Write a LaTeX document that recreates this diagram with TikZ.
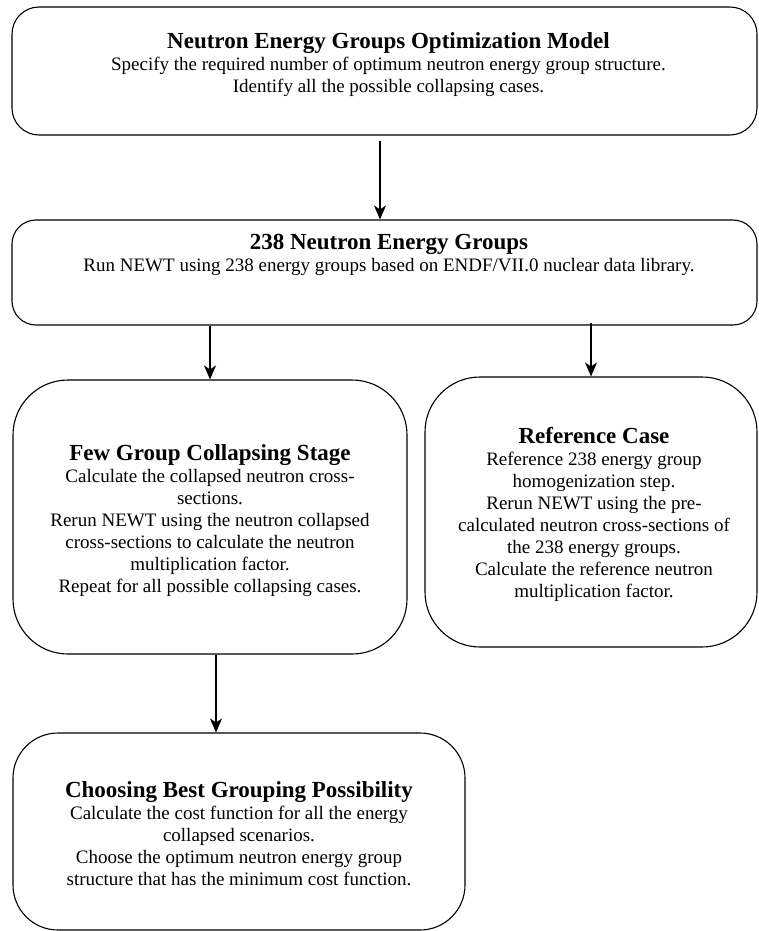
\documentclass[tikz,border=0pt]{standalone}
\usepackage{fontspec}
\setmainfont{Liberation Serif}
\usetikzlibrary{arrows.meta}

\begin{document}
\begin{tikzpicture}[x=1pt,y=-1pt,
  box/.style={draw, line width=1.1pt, rectangle, inner sep=0pt},
  txt/.style={align=center, inner sep=0pt, font=\fontsize{19}{22}\selectfont},
  arr/.style={line width=1.4pt, -{Stealth[length=14pt,width=12pt,inset=4pt]}}
]
\newcommand{\hd}[1]{{\fontsize{23}{22}\selectfont\bfseries #1}}
\useasboundingbox (0,0) rectangle (759,931);

% process boxes
\node[box, rounded corners=27pt, minimum width=745pt, minimum height=128pt] (b1) at (384.5,71) {};
\node[box, rounded corners=24pt, minimum width=745pt, minimum height=105pt] (b2) at (384.5,272.5) {};
\node[box, rounded corners=55pt, minimum width=394pt, minimum height=274pt] (b3) at (210,517) {};
\node[box, rounded corners=55pt, minimum width=332pt, minimum height=270pt] (b4) at (591,512) {};
\node[box, rounded corners=45pt, minimum width=452pt, minimum height=197pt] (b5) at (239,831.5) {};

% box texts
\node[txt] (t1) at (388.5,65) {\hd{Neutron Energy Groups Optimization Model}\\
  Specify the required number of optimum neutron energy group structure.\\
  Identify all the possible collapsing cases.};
\node[txt] (t2) at (389,255) {\hd{238 Neutron Energy Groups}\\
  Run NEWT using 238 energy groups based on ENDF/VII.0 nuclear data library.};
\node[txt] (t3) at (210,521) {\hd{Few Group Collapsing Stage}\\
  Calculate the collapsed neutron cross-\\
  sections.\\
  Rerun NEWT using the neutron collapsed\\
  cross-sections to calculate the neutron\\
  multiplication factor.\\
  Repeat for all possible collapsing cases.};
\node[txt] (t4) at (594,514) {\hd{Reference Case}\\
  Reference 238 energy group\\
  homogenization step.\\
  Rerun NEWT using the pre-\\
  calculated neutron cross-sections of\\
  the 238 energy groups.\\
  Calculate the reference neutron\\
  multiplication factor.};
\node[txt] (t5) at (239,834) {\hd{Choosing Best Grouping Possibility}\\
  Calculate the cost function for all the energy\\
  collapsed scenarios.\\
  Choose the optimum neutron energy group\\
  structure that has the minimum cost function.};

% connectors
\coordinate (c1) at (380,0);
\coordinate (c4) at (216,0);
\draw[arr, shorten <=5pt] (b1.south -| c1) -- (b2.north -| c1);
\draw[arr] (b2.south -| b3.north) -- (b3.north);
\draw[arr] ([yshift=3pt]b2.south -| b4.north) -- (b4.north);
\draw[arr] (b3.south -| c4) -- (b5.north -| c4);
\end{tikzpicture}
\end{document}
